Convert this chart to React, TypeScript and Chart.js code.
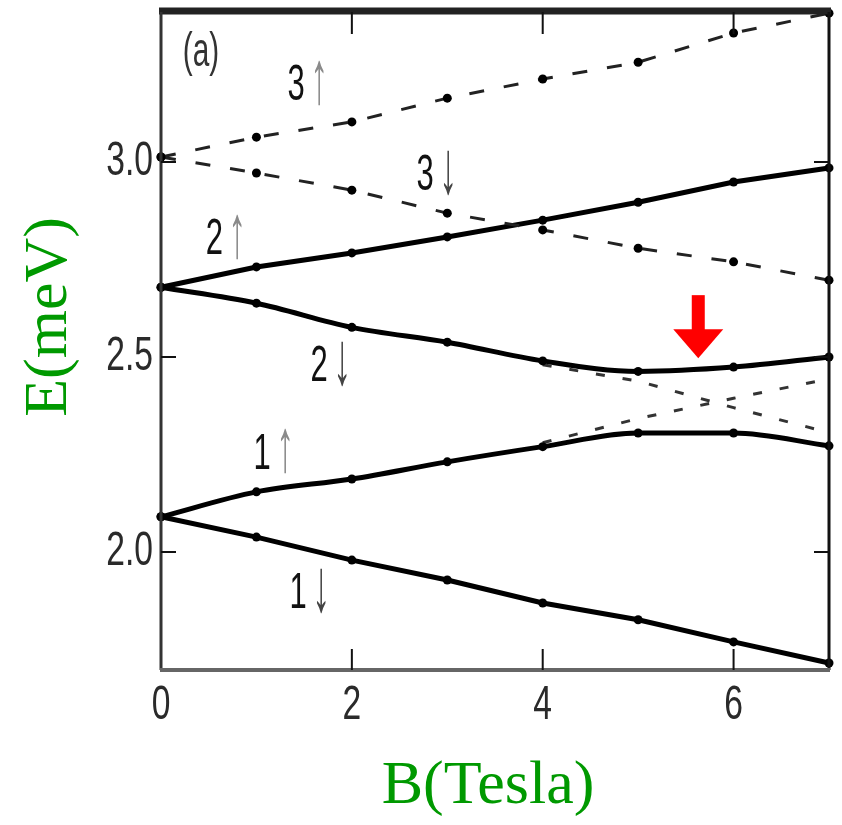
import React, { useEffect, useRef } from 'react';
import { Chart, registerables } from 'chart.js';

Chart.register(...registerables);

// ---- data ----
const fieldB = [0, 1, 2, 3, 4, 5, 6, 7];
const level3Up = [3.013, 3.064, 3.103, 3.164, 3.213, 3.256, 3.331, 3.382];
const level3Down = [3.013, 2.972, 2.928, 2.869, 2.826, 2.779, 2.744, 2.697];
const level2Up = [2.679, 2.731, 2.767, 2.808, 2.851, 2.897, 2.949, 2.985];
const level2Down = [2.679, 2.638, 2.576, 2.538, 2.49, 2.463, 2.474, 2.5];
const level1Up = [2.09, 2.154, 2.187, 2.231, 2.27, 2.305, 2.305, 2.272];
const level1Down = [2.09, 2.038, 1.979, 1.928, 1.869, 1.826, 1.769, 1.715];

const crossB = [4, 5, 6, 7];
const level2DownUncoupled = [2.48, 2.438, 2.37, 2.306];
const level1UpUncoupled = [2.28, 2.342, 2.394, 2.444];

const xTickValues = [0, 2, 4, 6];
const xTickLabels = ['0', '2', '4', '6'];
const yTickValues = [2.0, 2.5, 3.0];
const yTickLabels = ['2.0', '2.5', '3.0'];

const xAxisTitle = 'B(Tesla)';
const yAxisTitle = 'E(meV)';
const panelLabel = '(a)';

const levelLabelNumber = ['3', '3', '2', '2', '1', '1'];
const levelLabelArrow = ['↑', '↓', '↑', '↓', '↑', '↓'];
const levelLabelB = [1.417, 2.768, 0.558, 1.658, 1.06, 1.437];
const levelLabelE = [3.195, 2.964, 2.8, 2.474, 2.249, 1.892];

const markerB = 5.63;
const markerE = 2.497;

const xMin = 0;
const xMax = 7;
const yMin = 1.697;
const yMax = 3.385;

const zip = (xs: number[], ys: number[]) => xs.map((x, i) => ({ x, y: ys[i] }));

function drawText(
  ctx: CanvasRenderingContext2D,
  text: string,
  x: number,
  y: number,
  font: string,
  sx: number,
  align: CanvasTextAlign,
  color: string,
  sy = 1,
) {
  ctx.save();
  ctx.translate(x, y);
  ctx.scale(sx, sy);
  ctx.font = font;
  ctx.textAlign = align;
  ctx.textBaseline = 'middle';
  ctx.fillStyle = color;
  ctx.fillText(text, 0, 0);
  ctx.restore();
}

const decorPlugin = {
  id: 'decor',
  afterDatasetsDraw(chart: any) {
    const { ctx, chartArea, scales } = chart;
    const xs = scales.x;
    const ys = scales.y;
    const { left, right, top, bottom } = chartArea;
    ctx.save();

    // frame
    ctx.lineCap = 'butt';
    ctx.strokeStyle = '#222';
    ctx.lineWidth = 7;
    ctx.beginPath();
    ctx.moveTo(left - 2, top - 1);
    ctx.lineTo(right + 2, top - 1);
    ctx.stroke();
    ctx.lineWidth = 3;
    ctx.strokeStyle = '#333';
    ctx.beginPath();
    ctx.moveTo(left, top);
    ctx.lineTo(left, bottom);
    ctx.stroke();
    ctx.strokeStyle = '#111';
    ctx.beginPath();
    ctx.moveTo(right, top);
    ctx.lineTo(right, bottom);
    ctx.stroke();
    ctx.strokeStyle = '#666';
    ctx.lineWidth = 4;
    ctx.beginPath();
    ctx.moveTo(left - 1, bottom);
    ctx.lineTo(right + 1, bottom);
    ctx.stroke();

    // inward ticks
    ctx.strokeStyle = '#111';
    ctx.lineWidth = 2;
    xTickValues.forEach((v) => {
      if (v === xMin) return;
      const px = xs.getPixelForValue(v);
      ctx.beginPath();
      ctx.moveTo(px, bottom);
      ctx.lineTo(px, bottom - 21);
      ctx.moveTo(px, top);
      ctx.lineTo(px, top + 22);
      ctx.stroke();
    });
    yTickValues.forEach((v) => {
      const py = ys.getPixelForValue(v);
      ctx.beginPath();
      ctx.moveTo(left, py);
      ctx.lineTo(left + 15, py);
      ctx.moveTo(right, py);
      ctx.lineTo(right - 15, py);
      ctx.stroke();
    });

    // tick labels
    const tickFont = '48px "Liberation Sans", Arial, sans-serif';
    xTickValues.forEach((v, i) => {
      drawText(ctx, xTickLabels[i], xs.getPixelForValue(v), bottom + 36, tickFont, 0.7, 'center', '#2a2a2a');
    });
    yTickValues.forEach((v, i) => {
      drawText(ctx, yTickLabels[i], left - 8, ys.getPixelForValue(v), tickFont, 0.7, 'right', '#2a2a2a');
    });

    // panel label
    drawText(ctx, panelLabel, left + 40, top + 41, '48px "Liberation Sans", Arial, sans-serif', 0.62, 'center', '#333');

    // level labels
    const lblFont = '50px "Liberation Sans", Arial, sans-serif';
    const arrowFont = 'bold 50px "Liberation Sans", Arial, sans-serif';
    levelLabelNumber.forEach((n, i) => {
      const px = xs.getPixelForValue(levelLabelB[i]);
      const py = ys.getPixelForValue(levelLabelE[i]);
      drawText(ctx, n, px, py, lblFont, 0.62, 'center', '#111');
      const up = levelLabelArrow[i] === '↑';
      const arrowColor = up ? '#8a8a8a' : '#444';
      drawText(ctx, levelLabelArrow[i], px + 23, py - 4, arrowFont, 0.72, 'center', arrowColor, 1.5);
    });

    // axis titles
    const titleFont = '62px "Liberation Serif", "Times New Roman", serif';
    drawText(ctx, xAxisTitle, (left + right) / 2 - 7, bottom + 117, titleFont, 1, 'center', '#009900');
    ctx.save();
    ctx.translate(50, 317);
    ctx.rotate(-Math.PI / 2);
    ctx.font = titleFont;
    ctx.textAlign = 'center';
    ctx.textBaseline = 'middle';
    ctx.fillStyle = '#009900';
    ctx.fillText(yAxisTitle, 0, 0);
    ctx.restore();

    // red marker arrow
    const ax = xs.getPixelForValue(markerB);
    const ay = ys.getPixelForValue(markerE);
    ctx.fillStyle = '#ff0000';
    ctx.fillRect(ax - 6.5, ay - 63, 13, 35);
    ctx.beginPath();
    ctx.moveTo(ax - 25, ay - 29);
    ctx.lineTo(ax + 25, ay - 29);
    ctx.lineTo(ax, ay);
    ctx.closePath();
    ctx.fill();

    ctx.restore();
  },
};

export default function App() {
  const canvasRef = useRef<HTMLCanvasElement | null>(null);

  useEffect(() => {
    const canvas = canvasRef.current;
    if (!canvas) return;
    const solid = (data: number[], smooth: boolean) => ({
      data: zip(fieldB, data),
      borderColor: '#000',
      backgroundColor: '#000',
      borderWidth: 5,
      pointRadius: 4.5,
      pointBackgroundColor: '#000',
      pointBorderWidth: 0,
      cubicInterpolationMode: smooth ? ('monotone' as const) : ('default' as const),
      tension: 0,
      clip: false as any,
    });
    const dashed = (data: number[]) => ({
      data: zip(fieldB, data),
      borderColor: '#222',
      backgroundColor: '#000',
      borderWidth: 3,
      borderDash: [15, 20],
      pointRadius: 4.5,
      pointBackgroundColor: '#000',
      pointBorderWidth: 0,
      tension: 0,
      clip: false as any,
    });
    const crossing = (data: number[]) => ({
      data: zip(crossB, data),
      borderColor: '#333',
      borderWidth: 3,
      borderDash: [9, 18],
      pointRadius: 0,
      tension: 0,
      clip: false as any,
    });

    const chart = new Chart(canvas, {
      type: 'line',
      data: {
        datasets: [
          { label: '3↑', ...dashed(level3Up) },
          { label: '3↓', ...dashed(level3Down) },
          { label: '2↑', ...solid(level2Up, false) },
          { label: '2↓', ...solid(level2Down, true) },
          { label: '1↑', ...solid(level1Up, true) },
          { label: '1↓', ...solid(level1Down, false) },
          { label: '2↓ uncoupled', ...crossing(level2DownUncoupled) },
          { label: '1↑ uncoupled', ...crossing(level1UpUncoupled) },
        ] as any,
      },
      options: {
        animation: false,
        responsive: false,
        maintainAspectRatio: false,
        layout: { padding: { left: 161, right: 13, top: 12, bottom: 155 } },
        plugins: { legend: { display: false }, tooltip: { enabled: false } },
        scales: {
          x: { type: 'linear', min: xMin, max: xMax, display: false },
          y: { type: 'linear', min: yMin, max: yMax, display: false },
        },
      },
      plugins: [decorPlugin],
    });
    return () => chart.destroy();
  }, []);

  return (
    <div style={{ position: 'fixed', left: 0, top: 0, width: 842, height: 825, background: '#fff' }}>
      <canvas ref={canvasRef} width={842} height={825} style={{ display: 'block' }} />
    </div>
  );
}
